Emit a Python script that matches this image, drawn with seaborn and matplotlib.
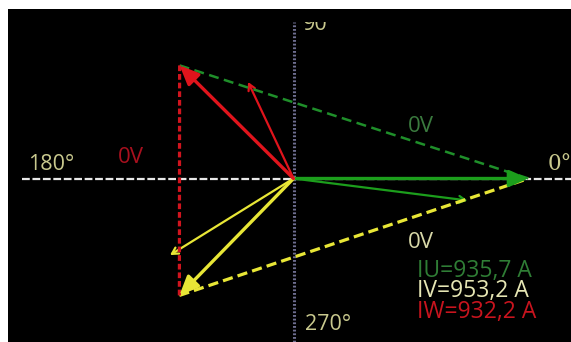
import numpy as np
import pandas as pd
import matplotlib
matplotlib.use("Agg")
import matplotlib.pyplot as plt
import seaborn as sns
from matplotlib.patches import Rectangle

# ---- data (arbitrary length units) ----
phases = ["U", "V", "W"]
main_mag = [235.0, 163.4, 160.5]        # thick phasors (filled heads)
main_ang = [0.0, 225.7, 135.2]          # degrees
thin_mag = [175.4, 145.3, 106.7]        # thin phasors (open heads)
thin_ang = [-7.2, 211.8, 115.2]
phase_colors = ["#1c9e1c", "#e8e636", "#e0141c"]
voltage_labels = ["0V", "0V", "0V"]
current_labels = ["IU=935,7 A", "IV=953,2 A", "IW=932,2 A"]
current_colors = ["#2f7d35", "#e6e6b4", "#c8141e"]
angle_labels = ["0°", "90°", "180°", "270°"]

sns.set_style("dark")
plt.rcParams["font.family"] = ["Open Sans", "DejaVu Sans"]

W, H = 571, 342
fig = plt.figure(figsize=(W / 100, H / 100), dpi=100, facecolor="white")
ax = fig.add_axes([8 / W, 0, 563 / W, 333 / H])
ax.set_facecolor("black")
ax.set_xticks([]); ax.set_yticks([])
for s in ax.spines.values():
    s.set_visible(False)
ax.grid(False)

def tip(m, a):
    r = np.deg2rad(a)
    return m * np.cos(r), m * np.sin(r)

tips = pd.DataFrame({"phase": phases,
                     "x": [tip(m, a)[0] for m, a in zip(main_mag, main_ang)],
                     "y": [tip(m, a)[1] for m, a in zip(main_mag, main_ang)]})
thin = pd.DataFrame({"phase": phases,
                     "x": [tip(m, a)[0] for m, a in zip(thin_mag, thin_ang)],
                     "y": [tip(m, a)[1] for m, a in zip(thin_mag, thin_ang)]})

# axes cross lines
ax.axhline(0, xmin=14 / 563, xmax=1, color="#e8e8e8", lw=1.6,
           ls=(0, (3.5, 1.2)), zorder=1)
ax.axvline(0, ymin=0, ymax=(333 - 13) / 333, color="#6e6e90", lw=2.2,
           ls=(0, (0.6, 0.6)), zorder=1)

# thin phasors
for i, row in thin.iterrows():
    ax.annotate("", xy=(row.x, row.y), xytext=(0, 0),
                arrowprops=dict(arrowstyle="->,head_length=0.45,head_width=0.25",
                                color=phase_colors[i], lw=1.6,
                                shrinkA=0, shrinkB=0), zorder=3)

# line-to-line dashed triangle (U-W green, U-V yellow, W-V red)
xy = tips.set_index("phase")
seg_pairs = [("W", "U", "#1f8f2a", (0, (4, 2.2)), 1.8),
             ("V", "U", phase_colors[1], (0, (3.2, 1.6)), 2.3),
             ("W", "V", "#d0141e", (0, (1.8, 0.9)), 2.3)]
for a, b, c, dash, lw in seg_pairs:
    seg = pd.DataFrame({"x": [xy.loc[a, "x"], xy.loc[b, "x"]],
                        "y": [xy.loc[a, "y"], xy.loc[b, "y"]]})
    sns.lineplot(data=seg, x="x", y="y", ax=ax, color=c, lw=lw,
                 sort=False, estimator=None, zorder=4)
    ax.lines[-1].set_linestyle(dash)
ax.set_xlabel(""); ax.set_ylabel("")
ax.set_xlim(-285.5, 277.5)
ax.set_ylim(-163.5, 169.5)

# thick phasors
for i, row in tips.iterrows():
    ax.annotate("", xy=(row.x, row.y), xytext=(0, 0),
                arrowprops=dict(arrowstyle="-|>,head_length=1.15,head_width=0.5",
                                color=phase_colors[i], lw=2.4,
                                shrinkA=0, shrinkB=0), zorder=5)

# angle labels
deg_col = "#c9c98e"
ax.text(254.5, 8.5, angle_labels[0], color=deg_col, fontsize=15.5,
        va="baseline", ha="left", fontfamily=["DejaVu Serif"], clip_on=True)
t90 = ax.text(9.5, 148.5, angle_labels[1], color=deg_col, fontsize=15.5,
              va="baseline", ha="left")
clip = Rectangle((-400, -400), 800, 400 + 156.5, transform=ax.transData)
t90.set_clip_path(clip)
t90.set_clip_on(True)
ax.text(-265.5, 8.5, angle_labels[2], color=deg_col, fontsize=15.5,
        va="baseline", ha="left")
ax.text(11.5, -151.5, angle_labels[3], color=deg_col, fontsize=15.5,
        va="baseline", ha="left")

# voltage labels
ax.text(114.5, 46.5, voltage_labels[0], color="#3a7a3e", fontsize=16,
        va="baseline", ha="left")
ax.text(114.5, -69.5, voltage_labels[1], color="#d8d8a8", fontsize=16,
        va="baseline", ha="left")
ax.text(-175.5, 15.5, voltage_labels[2], color="#a8101e", fontsize=16,
        va="baseline", ha="left")

# current readouts
for i, (lab, c) in enumerate(zip(current_labels, current_colors)):
    ax.text(123.5, -98.5 - 20.5 * i, lab, color=c, fontsize=16.5,
            va="baseline", ha="left")

fig.savefig("out.png", dpi=100, facecolor="white")
